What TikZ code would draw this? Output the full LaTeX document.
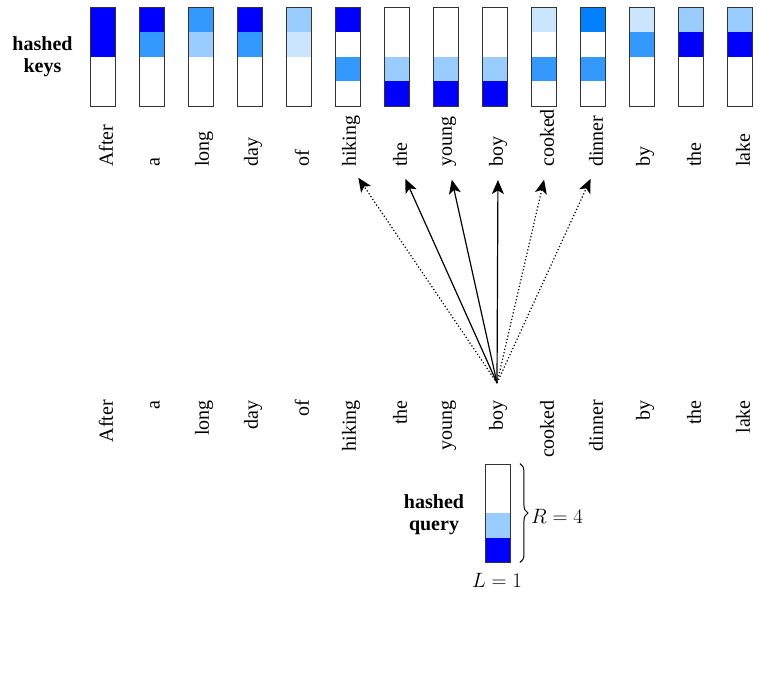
\documentclass[tikz,border=0pt]{standalone}
\usepackage{fontspec}
\setmainfont{Liberation Serif}
\usetikzlibrary{arrows.meta,decorations.pathreplacing,calc}
\definecolor{cdark}{HTML}{0000FF}
\definecolor{cmid}{HTML}{3399FF}
\definecolor{clight}{HTML}{99CCFF}
\definecolor{cvlight}{HTML}{CCE5FF}
\definecolor{cbright}{HTML}{0080FF}
\begin{document}
\begin{tikzpicture}[x=1pt,y=-1pt,
  every node/.style={font=\fontsize{20}{22}\selectfont, inner sep=0pt},
  word/.style={rotate=90},
  boxframe/.style={draw=black!80, line width=0.9pt, minimum width=25.5pt, minimum height=99pt},
  lbl/.style={font=\fontsize{20}{22}\selectfont\bfseries, align=center},
  solidarr/.style={-{Stealth[length=14pt,width=12pt,inset=3.5pt]}, line width=1.2pt, shorten >=13pt},
  dotarr/.style={-{Stealth[length=14pt,width=12pt,inset=3.5pt]}, line width=1.2pt, dash pattern=on 1.2pt off 2.2pt, shorten >=13pt}
]
\useasboundingbox (0,0) rectangle (759,678);

% hashed key columns
\foreach \i/\a/\b/\c/\d in {
  1/cdark/cdark/white/white,
  2/cdark/cmid/white/white,
  3/cmid/clight/white/white,
  4/cdark/cmid/white/white,
  5/clight/cvlight/white/white,
  6/cdark/white/cmid/white,
  7/white/white/clight/cdark,
  8/white/white/clight/cdark,
  9/white/white/clight/cdark,
  10/cvlight/white/cmid/white,
  11/cbright/white/cmid/white,
  12/cvlight/cmid/white/white,
  13/clight/cdark/white/white,
  14/clight/cdark/white/white}{
  \pgfmathsetmacro\cx{103+49*(\i-1)}
  \fill[\a] ({\cx-12.75},7) rectangle ({\cx+12.75},31.75);
  \fill[\b] ({\cx-12.75},31.75) rectangle ({\cx+12.75},56.5);
  \fill[\c] ({\cx-12.75},56.5) rectangle ({\cx+12.75},81.25);
  \fill[\d] ({\cx-12.75},81.25) rectangle ({\cx+12.75},106);
  \node[boxframe] (k\i) at (\cx,56.5) {};
}

% words
\foreach \i/\w in {1/After,2/a,3/long,4/day,5/of,6/hiking,7/the,8/young,9/boy,10/cooked,11/dinner,12/by,13/the,14/lake}{
  \pgfmathsetmacro\wx{106+49*(\i-1)}
  \node[word, anchor=west] (t\i) at (\wx,167) {\w};
  \node[word, anchor=east] (b\i) at (\wx,400) {\w};
}

\node[lbl] (hk) at (42.5,57) {hashed\\keys};

% attention arrows
\coordinate (src) at (497,383);
\draw[dotarr] (src) -- (t6.west);
\draw[solidarr] (src) -- (t7.west);
\draw[solidarr] (src) -- (t8.west);
\draw[solidarr] (src) -- (t9.west);
\draw[dotarr] (src) -- (t10.west);
\draw[dotarr] (src) -- (t11.west);

% hashed query
\fill[clight] (485.5,513) rectangle (510.5,537.5);
\fill[cdark] (485.5,537.5) rectangle (510.5,562);
\node[boxframe, minimum width=25pt, minimum height=98pt] (q) at (498,513) {};
\draw[decorate, decoration={brace, amplitude=8pt}, line width=1pt]
  ($(q.north east)+(9,0)$) -- ($(q.south east)+(9,0)$);
\node[anchor=west] (r) at (531,516) {$R=4$};
\node (l) at (497,580) {$L=1$};
\node[lbl] (hq) at (434,515) {hashed\\query};
\end{tikzpicture}
\end{document}
